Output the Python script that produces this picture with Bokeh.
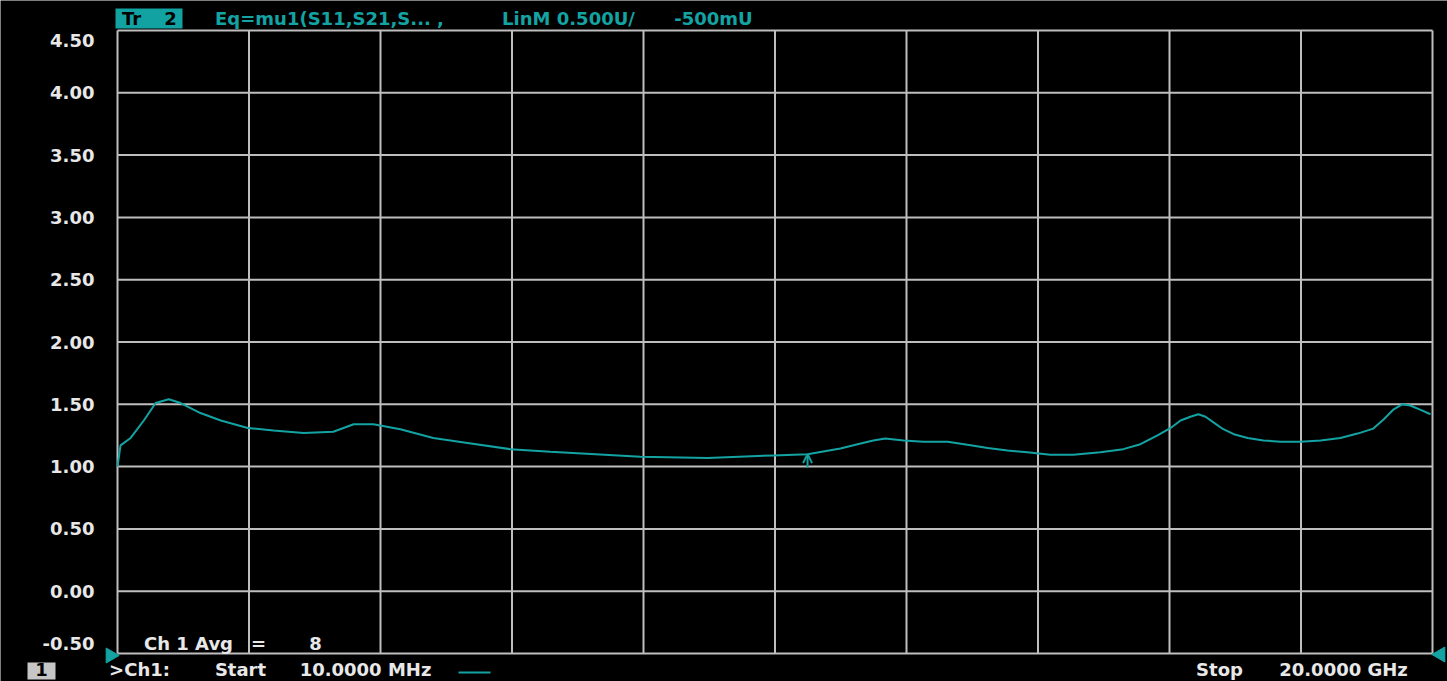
import math
from bokeh.plotting import figure
from bokeh.models import Label, Arrow, OpenHead, Range1d
from bokeh.embed import file_html
from bokeh.resources import INLINE

# ---------------- data ----------------
freq_ghz = [0.01, 0.056, 0.21, 0.41, 0.59, 0.79, 0.97, 1.27, 1.58, 1.99, 2.38, 2.84,
            3.29, 3.60, 3.90, 4.31, 4.81, 5.33, 5.98, 6.59, 7.96, 8.98, 9.98, 10.50,
            11.00, 11.26, 11.50, 11.68, 11.96, 12.26, 12.63, 12.93, 13.24, 13.54, 13.84,
            14.19, 14.54, 14.95, 15.30, 15.56, 15.82, 16.02,
            16.17, 16.32, 16.44, 16.55, 16.67, 16.82, 16.98, 17.19, 17.43, 17.69, 17.99,
            18.30, 18.60, 18.86, 19.10, 19.26, 19.41, 19.54, 19.66, 19.82, 19.97]
mu_value = [1.00, 1.17, 1.23, 1.37, 1.51, 1.54, 1.51, 1.43, 1.37, 1.31, 1.29, 1.27,
            1.28, 1.34, 1.34, 1.30, 1.23, 1.19, 1.14, 1.12, 1.08, 1.07, 1.09, 1.10,
            1.146, 1.18, 1.21, 1.225, 1.21, 1.20, 1.20, 1.175, 1.15, 1.13, 1.115,
            1.095, 1.095, 1.115, 1.14, 1.18, 1.25, 1.31,
            1.37, 1.40, 1.42, 1.40, 1.355, 1.30, 1.26, 1.23, 1.21, 1.20, 1.20,
            1.21, 1.23, 1.265, 1.305, 1.38, 1.46, 1.50, 1.49, 1.455, 1.42]

y_ticks = [-0.5, 0.0, 0.5, 1.0, 1.5, 2.0, 2.5, 3.0, 3.5, 4.0, 4.5]
y_tick_labels = ["-0.50", "0.00", "0.50", "1.00", "1.50", "2.00", "2.50", "3.00", "3.50", "4.00", "4.50"]
start_ghz = 0.01
stop_ghz = 20.0
n_div_x = 10
x_ticks = [start_ghz + k * (stop_ghz - start_ghz) / n_div_x for k in range(n_div_x + 1)]

marker_freq = [10.50]
marker_val = [1.10]

trace_name = ["Tr", "2"]
trace_desc = ["Eq=mu1(S11,S21,S... ,", "LinM 0.500U/", "-500mU"]
avg_texts = ["Ch 1 Avg", "=", "8"]
channel_num = "1"
channel_texts = [">Ch1:", "Start", "10.0000 MHz"]
stop_texts = ["Stop", "20.0000 GHz"]

# ---------------- layout / styles ----------------
W, H = 1447, 681
FL, FR, FT, FB = 117, 1432, 30, 653          # grid area in pixels
TEAL = "#14A3A3"
BOX_TEAL = "#12A2A2"
GRID = "#BEBEBE"
WHITE = "#E8E8E8"
FONT = "DejaVu Sans"
FS = "18px"

sx = (stop_ghz - start_ghz) / (FR - FL)
sy = (y_ticks[-1] - y_ticks[0]) / (FB - FT)
def X(px):
    return start_ghz + (px - FL) * sx
def Y(py):
    return y_ticks[0] + (FB - py) * sy

p = figure(width=W, height=H, output_backend="svg", toolbar_location=None,
           x_range=Range1d(X(0), X(W)), y_range=Range1d(Y(H), Y(0)),
           background_fill_color="black", border_fill_color="black",
           min_border=0, min_border_left=0, min_border_right=0,
           min_border_top=0, min_border_bottom=0)
p.xaxis.visible = False
p.yaxis.visible = False
p.xgrid.visible = False
p.ygrid.visible = False
p.outline_line_color = None

# graticule from tick arrays
p.segment(x0=x_ticks, y0=[y_ticks[0]] * len(x_ticks), x1=x_ticks, y1=[y_ticks[-1]] * len(x_ticks),
          line_color=GRID, line_width=2)
p.segment(x0=[start_ghz] * len(y_ticks), y0=y_ticks, x1=[stop_ghz] * len(y_ticks), y1=y_ticks,
          line_color=GRID, line_width=2)

# trace
p.line(freq_ghz, mu_value, line_color=TEAL, line_width=2)

# marker arrow
p.add_layout(Arrow(x_start=marker_freq[0], y_start=marker_val[0] - 0.11,
                   x_end=marker_freq[0], y_end=marker_val[0],
                   line_color=TEAL, line_width=2,
                   end=OpenHead(size=9, line_color=TEAL, line_width=2)))

# reference-level triangles at start / stop
p.scatter([X(FL - 7)], [Y(FB + 2)], marker="triangle", angle=-math.pi / 2, size=15,
          fill_color=TEAL, line_color=TEAL)
p.scatter([X(FR + 8)], [Y(FB + 1)], marker="triangle", angle=math.pi / 2, size=15,
          fill_color=TEAL, line_color=TEAL)

def lab(text, cx, cy, color=WHITE, align="center", size=FS, bold=True):
    p.add_layout(Label(x=X(cx), y=Y(cy), text=text, text_color=color,
                       text_font=FONT, text_font_size=size, text_align=align,
                       text_baseline="middle", text_font_style="bold" if bold else "normal"))

# y tick labels
for v, t in zip(y_ticks, y_tick_labels):
    py = FB - (v - y_ticks[0]) / sy
    if v == y_ticks[-1]:
        py += 10
    elif v == y_ticks[0]:
        py -= 10
    lab(t, 94, py, align="right")

# header
p.quad(left=[X(115)], right=[X(182)], top=[Y(8)], bottom=[Y(28)], fill_color=BOX_TEAL, line_color=None)
lab(trace_name[0], 131, 18, color="black")
lab(trace_name[1], 170, 18, color="black")
lab(trace_desc[0], 329, 18, color=TEAL)
lab(trace_desc[1], 568, 18, color=TEAL)
lab(trace_desc[2], 713, 18, color=TEAL)

# averaging annotation
lab(avg_texts[0], 188, 643)
lab(avg_texts[1], 258, 643)
lab(avg_texts[2], 315, 643)

# bottom status row
p.quad(left=[X(27)], right=[X(55)], top=[Y(662)], bottom=[Y(679)], fill_color="#C6C6C6", line_color=None)
lab(channel_num, 41, 669, color="black")
lab(channel_texts[0], 139, 669)
lab(channel_texts[1], 240, 669)
lab(channel_texts[2], 365, 669)
p.segment(x0=[X(458)], y0=[Y(672)], x1=[X(490)], y1=[Y(672)], line_color=TEAL, line_width=2)
lab(stop_texts[0], 1219, 669)
lab(stop_texts[1], 1343, 669)

open("out.html", "w").write(file_html(p, INLINE))
